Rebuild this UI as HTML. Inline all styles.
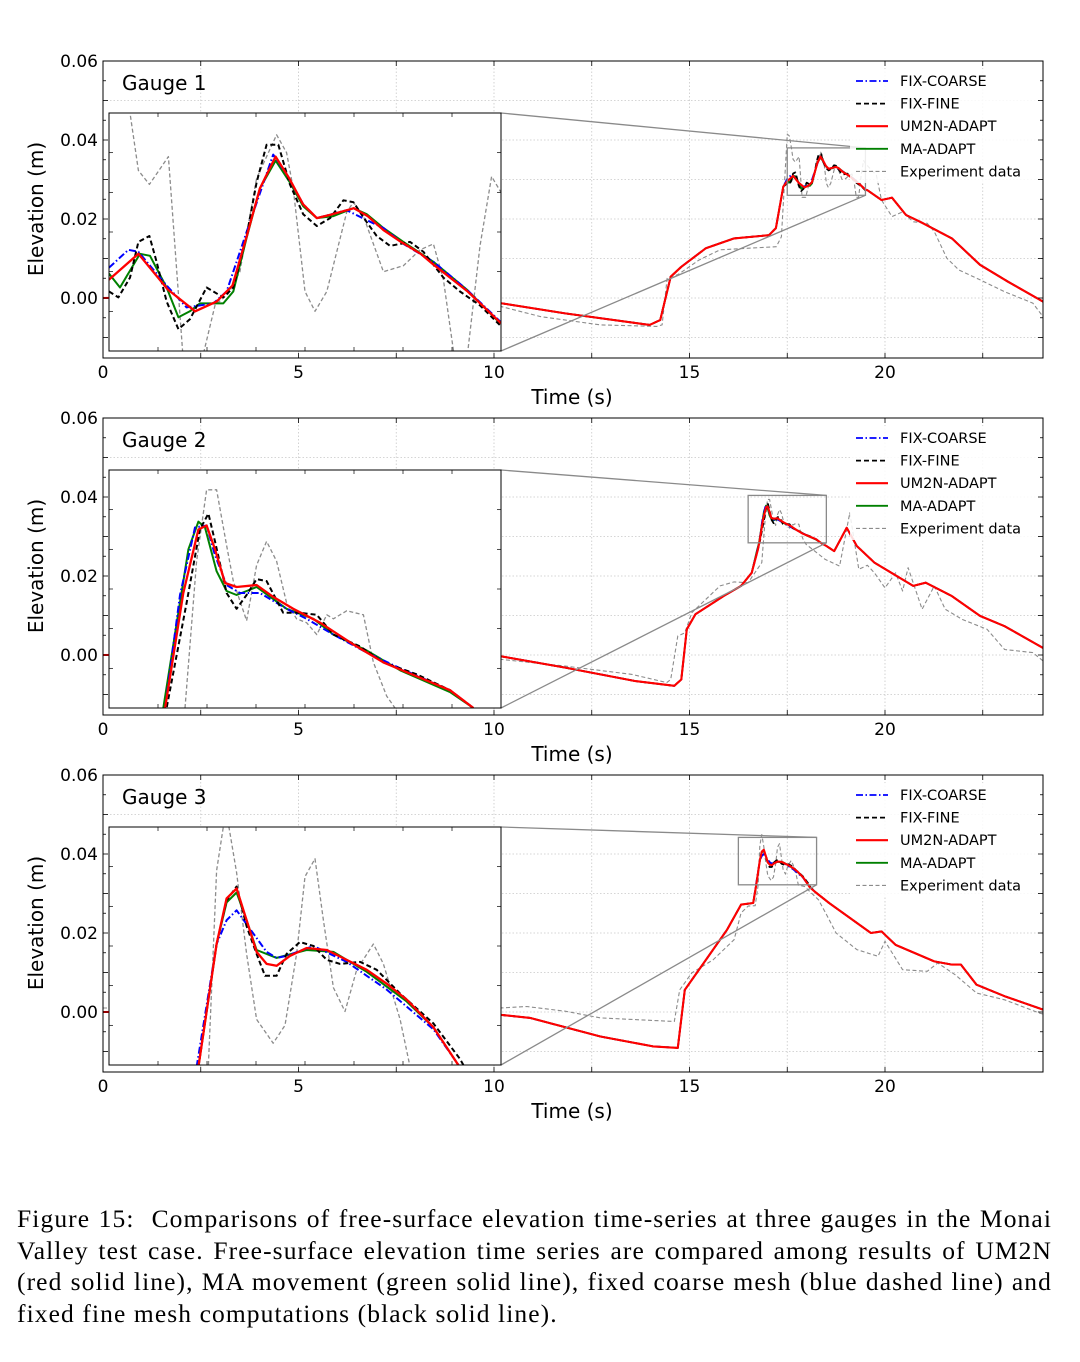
<!DOCTYPE html>
<html><head><meta charset="utf-8"><style>
html,body{margin:0;padding:0;background:#fff;}
svg{display:block;font-family:"DejaVu Sans","Liberation Sans",sans-serif;}
#caption{position:absolute;left:17px;top:1203px;width:1035px;font-family:"Liberation Serif",serif;font-size:25.5px;line-height:31.7px;letter-spacing:1.1px;color:#000;}
#caption div{text-align:justify;text-align-last:justify;white-space:nowrap;overflow:visible;}
#caption div.last{text-align-last:left;}
</style></head><body>
<svg id="fig" width="1080" height="1362" viewBox="0 0 1080 1362" xmlns="http://www.w3.org/2000/svg">
<defs id="defs"></defs>
<g id="root"></g>
</svg>
<div id="caption">
<div style="white-space:normal">Figure 15:&nbsp; Comparisons of free-surface elevation time-series at three gauges in the Monai</div>
<div style="white-space:normal">Valley test case. Free-surface elevation time series are compared among results of UM2N</div>
<div style="white-space:normal">(red solid line), MA movement (green solid line), fixed coarse mesh (blue dashed line) and</div>
<div class="last">fixed fine mesh computations (black solid line).</div>
</div>
<script>
// ===== Gauge 1 data =====
const g1RedPreT=[0,5,10.16,11.82,13.98,14.25,14.52,14.79,15.42,16.14,17.03,17.21,17.40];
const g1RedPreV=[0,0.001,-0.0013,-0.0039,-0.0068,-0.0056,0.0054,0.0079,0.0126,0.0151,0.0159,0.0177,0.0282];
const g1RedPostT=[19.55,19.91,20.18,20.54,20.90,21.71,22.43,23.15,24.04];
const g1RedPostV=[0.0273,0.0248,0.0254,0.0210,0.0193,0.0151,0.0084,0.0041,-0.0009];
const g1ExpPreT=[0,10.16,11.19,12.72,14.16,14.30,14.43,14.70,15.24,15.78,17.22,17.35];
const g1ExpPreV=[0,-0.0021,-0.0047,-0.0068,-0.0072,-0.0068,0.0051,0.0059,0.0096,0.0122,0.0130,0.0155];
const g1ExpPostT=[19.78,19.91,20.18,20.45,20.72,21.08,21.26,21.58,21.89,22.43,23.06,23.78,24.04];
const g1ExpPostV=[0.0311,0.0248,0.0206,0.0218,0.0193,0.0189,0.0168,0.0101,0.0071,0.0046,0.0016,-0.0013,-0.0047];
const g1Window=[17.5,19.5,0.026,0.038];
const g1InRedT=[17.50,17.65,17.80,17.94,18.05,18.13,18.20,18.27,18.35,18.42,18.49,18.56,18.64,18.75,18.82,18.90,18.99,19.09,19.15,19.33,19.50];
const g1InRedV=[0.0296,0.0309,0.0291,0.0280,0.0285,0.0293,0.0317,0.0342,0.0358,0.0347,0.0334,0.0327,0.0329,0.0332,0.0328,0.0321,0.0315,0.0309,0.0304,0.0290,0.0274];
const g1InBlackT=[17.50,17.548,17.607,17.650,17.706,17.743,17.794,17.854,17.913,17.998,18.083,18.134,18.202,18.253,18.304,18.364,18.423,18.491,18.560,18.628,18.696,18.747,18.815,18.866,18.934,19.036,19.104,19.206,19.291,19.393,19.495];
const g1InBlackV=[0.0290,0.0287,0.0297,0.0315,0.0318,0.0305,0.0285,0.0271,0.0276,0.0292,0.0287,0.0292,0.0318,0.0345,0.0364,0.0364,0.0344,0.0329,0.0323,0.0327,0.0336,0.0335,0.0325,0.0318,0.0313,0.0315,0.0310,0.0297,0.0290,0.0283,0.0273];
const g1InBlueT=[17.50,17.599,17.650,17.794,17.896,18.032,18.100,18.202,18.338,18.406,18.491,18.560,18.713,18.815,18.900,19.002,19.155,19.325,19.495];
const g1InBlueV=[0.0302,0.0311,0.0310,0.0293,0.0282,0.0284,0.0290,0.0320,0.0359,0.0349,0.0334,0.0327,0.0331,0.0326,0.0322,0.0314,0.0305,0.0291,0.0275];
const g1InGreenT=[17.50,17.556,17.658,17.709,17.794,17.854,17.913,17.964,18.083,18.134,18.202,18.270,18.350,18.423,18.491,18.560,18.645,18.747,18.815,18.900,19.002,19.155,19.325,19.495];
const g1InGreenV=[0.0299,0.0292,0.0309,0.0308,0.0292,0.0277,0.0280,0.0284,0.0284,0.0290,0.0317,0.0342,0.0356,0.0345,0.0333,0.0327,0.0328,0.0332,0.0329,0.0322,0.0315,0.0305,0.0291,0.0274];
const g1InExpT=[17.50,17.556,17.607,17.650,17.706,17.803,17.879,17.973,18.041,18.109,18.168,18.253,18.355,18.406,18.440,18.500,18.551,18.611,18.713,18.747,18.798,18.900,19.002,19.087,19.155,19.206,19.265,19.325,19.393,19.452,19.500];
const g1InExpV=[0.0415,0.0410,0.0380,0.0351,0.0344,0.0358,0.0255,0.0255,0.0283,0.0289,0.0300,0.0347,0.0369,0.0360,0.0342,0.0290,0.0280,0.0290,0.0330,0.0335,0.0328,0.0300,0.0303,0.0311,0.0314,0.0296,0.0255,0.0255,0.0313,0.0348,0.0340];

// ===== Gauge 2 data =====
const g2RedPreT=[0,5,10.16,11.82,13.62,14.61,14.79,14.93,15.15,15.87,16.32,16.59];
const g2RedPreV=[0,0.0005,-0.0003,-0.0032,-0.0066,-0.0078,-0.0062,0.0065,0.0103,0.0149,0.0175,0.0208];
const g2RedPostT=[18.5,18.70,19.02,19.28,19.73,20.72,21.04,21.71,22.43,23.06,24.04];
const g2RedPostV=[0.0276,0.0263,0.0322,0.0276,0.0234,0.0175,0.0183,0.0149,0.0099,0.0073,0.0018];
const g2ExpPreT=[0,10.16,11.82,13.53,14.42,14.52,14.70,14.88,15.06,15.78,16.14,16.50,16.85];
const g2ExpPreV=[0,-0.0011,-0.0028,-0.0049,-0.0070,-0.0062,0.0048,0.0056,0.0107,0.0175,0.0185,0.0183,0.0234];
const g2ExpPostT=[18.47,18.84,19.10,19.33,19.55,19.73,20.00,20.27,20.45,20.59,20.95,21.26,21.54,21.98,22.61,23.06,23.78,24.04];
const g2ExpPostV=[0.0242,0.0225,0.0360,0.0217,0.0227,0.0208,0.0170,0.0208,0.0162,0.0221,0.0116,0.0175,0.0116,0.0090,0.0065,0.0014,0.0006,-0.0015];
const g2Window=[16.5,18.5,0.0284,0.0404];
const g2InRedT=[16.743,16.786,16.879,16.956,16.998,17.041,17.092,17.151,17.253,17.338,17.440,17.577,17.747,17.900,18.070,18.240,18.359];
const g2InRedV=[0.0265,0.0284,0.0342,0.0374,0.0376,0.0364,0.0347,0.0345,0.0346,0.0340,0.0334,0.0327,0.0316,0.0307,0.0300,0.0293,0.0284];
const g2InBlackT=[16.743,16.794,16.896,16.964,17.007,17.041,17.100,17.151,17.202,17.253,17.304,17.389,17.474,17.560,17.645,17.781,17.900,18.070,18.240,18.359];
const g2InBlackV=[0.0265,0.0284,0.0337,0.0374,0.0382,0.0368,0.0342,0.0334,0.0341,0.0349,0.0348,0.0332,0.0332,0.0331,0.0321,0.0315,0.0307,0.0301,0.0293,0.0284];
const g2InBlueT=[16.735,16.786,16.862,16.939,16.998,17.041,17.100,17.168,17.270,17.406,17.508,17.645,17.815,17.985,18.240,18.359];
const g2InBlueV=[0.0265,0.0284,0.0341,0.0375,0.0376,0.0361,0.0346,0.0342,0.0342,0.0334,0.0329,0.0321,0.0312,0.0304,0.0293,0.0284];
const g2InGreenT=[16.726,16.777,16.905,16.956,16.990,17.049,17.100,17.151,17.253,17.406,17.543,17.645,17.815,17.985,18.240,18.359];
const g2InGreenV=[0.0265,0.0284,0.0364,0.0378,0.0375,0.0353,0.0343,0.0341,0.0345,0.0334,0.0329,0.0321,0.0313,0.0303,0.0292,0.0284];
const g2InExpT=[16.888,16.947,16.998,17.049,17.100,17.134,17.202,17.253,17.304,17.355,17.406,17.457,17.508,17.560,17.611,17.645,17.713,17.798,17.849,17.917,17.959,17.985];
const g2InExpV=[0.0284,0.0358,0.0394,0.0394,0.0366,0.0348,0.0328,0.0356,0.0368,0.0358,0.0337,0.0329,0.0327,0.0321,0.0331,0.0329,0.0333,0.0331,0.0307,0.0290,0.0284,0.0280];

// ===== Gauge 3 data =====
const g3RedPreT=[0,5,10.16,10.92,12.72,14.07,14.70,14.88,15.42,15.96,16.32,16.63];
const g3RedPreV=[0,0.0005,-0.0007,-0.0015,-0.0062,-0.0087,-0.0091,0.0056,0.0132,0.0208,0.0272,0.0276];
const g3RedPostT=[18.2,18.57,19.64,19.91,20.27,21.26,21.71,21.94,22.34,23.06,24.04];
const g3RedPostV=[0.0305,0.0276,0.0200,0.0204,0.0170,0.0128,0.0120,0.0120,0.0069,0.0040,0.0006];
const g3ExpPreT=[0,10.16,10.83,11.82,12.72,14.61,14.75,15.06,15.60,16.14,16.32,16.50,16.68];
const g3ExpPreV=[0.001,0.0010,0.0014,0.0002,-0.0015,-0.0024,0.0056,0.0099,0.0132,0.0183,0.0251,0.0268,0.0269];
const g3ExpPostT=[17.94,18.30,18.48,18.75,19.28,19.82,20.00,20.45,21.08,21.35,21.80,22.34,23.06,23.96,24.04];
const g3ExpPostV=[0.0318,0.0284,0.0251,0.0200,0.0158,0.0141,0.0179,0.0107,0.0103,0.0124,0.0094,0.0048,0.0031,-0.0003,-0.0005];
const g3Window=[16.25,18.25,0.0322,0.0442];
const g3InRedT=[16.706,16.799,16.850,16.901,16.952,17.003,17.054,17.105,17.173,17.258,17.361,17.463,17.565,17.667,17.769,17.905,18.032,18.075];
const g3InRedV=[0.0321,0.0383,0.0406,0.0411,0.0395,0.0379,0.0373,0.0372,0.0377,0.0381,0.0380,0.0375,0.0370,0.0363,0.0355,0.0341,0.0322,0.0316];
const g3InBlackT=[16.706,16.799,16.850,16.901,16.952,17.003,17.046,17.105,17.156,17.224,17.293,17.361,17.429,17.531,17.616,17.735,17.905,18.041,18.092];
const g3InBlackV=[0.0321,0.0383,0.0405,0.0412,0.0392,0.0378,0.0367,0.0367,0.0378,0.0384,0.0382,0.0375,0.0373,0.0374,0.0370,0.0358,0.0343,0.0325,0.0316];
const g3InBlueT=[16.697,16.799,16.850,16.901,16.952,17.054,17.105,17.156,17.293,17.463,17.667,17.905,18.041];
const g3InBlueV=[0.0321,0.0383,0.0395,0.0400,0.0393,0.0379,0.0376,0.0377,0.0382,0.0374,0.0360,0.0340,0.0321];
const g3InGreenT=[16.706,16.799,16.850,16.901,16.952,17.003,17.105,17.258,17.395,17.565,17.769,17.905,18.032];
const g3InGreenV=[0.0321,0.0383,0.0404,0.0409,0.0395,0.0380,0.0376,0.0380,0.0379,0.0369,0.0354,0.0341,0.0322];
const g3InExpT=[16.757,16.799,16.833,16.850,16.901,16.952,17.003,17.088,17.148,17.207,17.250,17.301,17.344,17.395,17.454,17.514,17.599,17.650,17.735,17.786];
const g3InExpV=[0.0322,0.0420,0.0442,0.0449,0.0419,0.0378,0.0345,0.0333,0.0342,0.0378,0.0417,0.0426,0.0395,0.0361,0.0349,0.0370,0.0383,0.0373,0.0345,0.0321];

const xTickLabels=["0","5","10","15","20"];
const xTickValues=[0,5,10,15,20];
const yTickLabels=["0.00","0.02","0.04","0.06"];
const yTickValues=[0,0.02,0.04,0.06];
const legendLabels=["FIX-COARSE","FIX-FINE","UM2N-ADAPT","MA-ADAPT","Experiment data"];

const NS="http://www.w3.org/2000/svg";
const root=document.getElementById('root');
const defs=document.getElementById('defs');
function mk(tag,attrs,parent){const e=document.createElementNS(NS,tag);for(const k in attrs)e.setAttribute(k,attrs[k]);(parent||root).appendChild(e);return e;}

const styles={
  exp:{stroke:'#8c8c8c',w:1.1,dash:'4,2.5'},
  green:{stroke:'#008000',w:1.8,dash:''},
  blue:{stroke:'#0000ff',w:1.8,dash:'7,2.5,1.5,2.5'},
  black:{stroke:'#000',w:1.8,dash:'5,3'},
  red:{stroke:'#ff0000',w:2.1,dash:''}
};

function merge(preT,preV,inT,inV,postT,postV){
  const T=[],V=[];
  const a=inT[0],b=inT[inT.length-1];
  preT.forEach((t,i)=>{if(t<a){T.push(t);V.push(preV[i]);}});
  inT.forEach((t,i)=>{T.push(t);V.push(inV[i]);});
  postT.forEach((t,i)=>{if(t>b){T.push(t);V.push(postV[i]);}});
  return [T,V];
}

function drawPanel(idx,off,d){
  const top=61+off, bot=358+off, L=103, R=1043;
  const X=t=>103+t*39.1, Y=v=>298+off-v*3950;
  const g=mk('g',{});
  
  
  const grid=mk('g',{stroke:'#c8c8c8','stroke-width':0.8,'stroke-dasharray':'1.5,2'},g);
  
  
  for(let t=0;t<=24;t+=2.5) mk('line',{x1:X(t),x2:X(t),y1:top,y2:bot},grid);
  for(let v=-0.01;v<=0.0601;v+=0.01) mk('line',{x1:L,x2:R,y1:Y(v),y2:Y(v)},grid);
  const cp=mk('clipPath',{id:'clipM'+idx},defs); mk('rect',{x:L,y:top,width:R-L,height:bot-top},cp);
  const lines=mk('g',{'clip-path':'url(#clipM'+idx+')',fill:'none'},g);
  
  
  const series=[['exp',d.expPre,d.inExp,d.expPost],['green',d.redPre,d.inGreen,d.redPost],['blue',d.redPre,d.inBlue,d.redPost],['black',d.redPre,d.inBlack,d.redPost],['red',d.redPre,d.inRed,d.redPost]];
  series.forEach(s=>{
    const [T,V]=merge(s[1][0],s[1][1],s[2][0],s[2][1],s[3][0],s[3][1]);
    const st=styles[s[0]];
    const p=mk('polyline',{points:T.map((t,i)=>X(t).toFixed(1)+','+Y(V[i]).toFixed(1)).join(' '),stroke:st.stroke,'stroke-width':st.w,'stroke-dasharray':st.dash,'stroke-linejoin':'round'},lines);
    
    
  });
  const fr=mk('rect',{x:L,y:top,width:R-L,height:bot-top,fill:'none',stroke:'#000','stroke-width':1},g);
  
  
  const tk=mk('g',{stroke:'#000','stroke-width':0.8},g);
  for(let t=0;t<=24;t+=2.5){mk('line',{x1:X(t),x2:X(t),y1:bot,y2:bot-5},tk);mk('line',{x1:X(t),x2:X(t),y1:top,y2:top+5},tk);}
  for(let v=-0.01;v<=0.0601;v+=0.005){const len=Math.abs(Math.round(v*1000)%10)<1?5:3;mk('line',{x1:L,x2:L+len,y1:Y(v),y2:Y(v)},tk);mk('line',{x1:R,x2:R-len,y1:Y(v),y2:Y(v)},tk);}
  xTickLabels.forEach((s,i)=>{const t=mk('text',{x:X(xTickValues[i]),y:bot+20,'text-anchor':'middle','font-size':17},g);t.textContent=s;
    
    });
  yTickLabels.forEach((s,i)=>{const t=mk('text',{x:98,y:Y(yTickValues[i])+6,'text-anchor':'end','font-size':17},g);t.textContent=s;
    
    });
  const xl=mk('text',{x:572,y:bot+46,'text-anchor':'middle','font-size':20},g);xl.textContent='Time (s)';
  
  
  const yl=mk('text',{x:0,y:0,'text-anchor':'middle','font-size':20,transform:'translate(43,'+(209+off)+') rotate(-90)'},g);yl.textContent='Elevation (m)';
  
  
  const gl=mk('text',{x:122,y:90+off,'font-size':20},g);gl.textContent='Gauge '+(idx+1);
  
  
  const w=d.win;
  const rx1=X(w[0]),rx2=X(w[1]),ry1=Y(w[3]),ry2=Y(w[2]);
  const iT=113+off,iB=351+off,iL=109,iR=501;
  const zr=mk('rect',{x:rx1,y:ry1,width:rx2-rx1,height:ry2-ry1,fill:'none',stroke:'#8a8a8a','stroke-width':1.3},g);
  
  
  const c1=mk('line',{x1:iR,y1:iT,x2:rx2,y2:ry1,stroke:'#8a8a8a','stroke-width':1.3},g);
  
  
  const c2=mk('line',{x1:iR,y1:iB,x2:rx2,y2:ry2,stroke:'#8a8a8a','stroke-width':1.3},g);
  
  
  const ins=mk('g',{},g);
  
  
  mk('rect',{x:iL,y:iT,width:iR-iL,height:iB-iT,fill:'#fff'},ins);
  const IX=t=>iL+(t-w[0])/(w[1]-w[0])*(iR-iL), IY=v=>iT+(w[3]-v)/(w[3]-w[2])*(iB-iT);
  const cpi=mk('clipPath',{id:'clipI'+idx},defs); mk('rect',{x:iL,y:iT,width:iR-iL,height:iB-iT},cpi);
  const il=mk('g',{'clip-path':'url(#clipI'+idx+')',fill:'none'},ins);
  [['exp',d.inExp],['green',d.inGreen],['blue',d.inBlue],['black',d.inBlack],['red',d.inRed]].forEach(s=>{
    const st=styles[s[0]];const T=s[1][0],V=s[1][1];
    const p=mk('polyline',{points:T.map((t,i)=>IX(t).toFixed(1)+','+IY(V[i]).toFixed(1)).join(' '),stroke:st.stroke,'stroke-width':st.w+0.2,'stroke-dasharray':st.dash,'stroke-linejoin':'round'},il);
    
    
  });
  mk('rect',{x:iL,y:iT,width:iR-iL,height:iB-iT,fill:'none',stroke:'#000','stroke-width':1},ins);
  const itk=mk('g',{stroke:'#000','stroke-width':0.7},ins);
  for(let t=w[0]+0.25;t<w[1];t+=0.25){mk('line',{x1:IX(t),x2:IX(t),y1:iB,y2:iB-4},itk);mk('line',{x1:IX(t),x2:IX(t),y1:iT,y2:iT+4},itk);}
  for(let v=w[2]+0.002;v<w[3];v+=0.002){mk('line',{x1:iL,x2:iL+4,y1:IY(v),y2:IY(v)},itk);mk('line',{x1:iR,x2:iR-4,y1:IY(v),y2:IY(v)},itk);}
  const lg=mk('g',{},g);
  
  
  mk('rect',{x:850,y:69+off,width:188,height:114,fill:'#fff',opacity:0.85},lg);
  const ls=['blue','black','red','green','exp'];
  legendLabels.forEach((s,i)=>{
    const yy=81+off+i*22.6, st=styles[ls[i]];
    const e=mk('g',{},lg);
    
    
    mk('line',{x1:856,x2:888,y1:yy,y2:yy,stroke:st.stroke,'stroke-width':st.w,'stroke-dasharray':st.dash},e);
    const t=mk('text',{x:900,y:yy+5,'font-size':14.5},e);t.textContent=s;
  });
}

drawPanel(0,0,{redPre:[g1RedPreT,g1RedPreV],redPost:[g1RedPostT,g1RedPostV],expPre:[g1ExpPreT,g1ExpPreV],expPost:[g1ExpPostT,g1ExpPostV],win:g1Window,
  inRed:[g1InRedT,g1InRedV],inBlack:[g1InBlackT,g1InBlackV],inBlue:[g1InBlueT,g1InBlueV],inGreen:[g1InGreenT,g1InGreenV],inExp:[g1InExpT,g1InExpV]});
drawPanel(1,357,{redPre:[g2RedPreT,g2RedPreV],redPost:[g2RedPostT,g2RedPostV],expPre:[g2ExpPreT,g2ExpPreV],expPost:[g2ExpPostT,g2ExpPostV],win:g2Window,
  inRed:[g2InRedT,g2InRedV],inBlack:[g2InBlackT,g2InBlackV],inBlue:[g2InBlueT,g2InBlueV],inGreen:[g2InGreenT,g2InGreenV],inExp:[g2InExpT,g2InExpV]});
drawPanel(2,714,{redPre:[g3RedPreT,g3RedPreV],redPost:[g3RedPostT,g3RedPostV],expPre:[g3ExpPreT,g3ExpPreV],expPost:[g3ExpPostT,g3ExpPostV],win:g3Window,
  inRed:[g3InRedT,g3InRedV],inBlack:[g3InBlackT,g3InBlackV],inBlue:[g3InBlueT,g3InBlueV],inGreen:[g3InGreenT,g3InGreenV],inExp:[g3InExpT,g3InExpV]});
</script>
</body></html>
